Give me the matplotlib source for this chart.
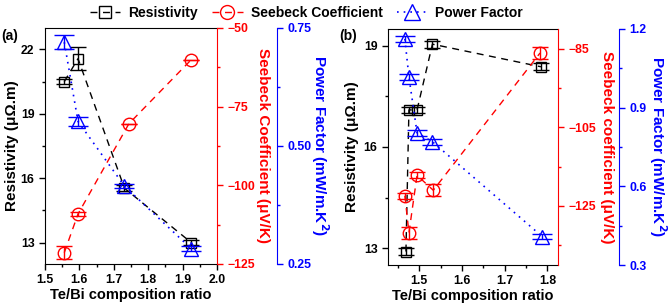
import numpy as np
import matplotlib
matplotlib.use('Agg')
import matplotlib.pyplot as plt
from matplotlib.lines import Line2D
from matplotlib.ticker import MultipleLocator, FixedLocator

plt.rcParams['font.family'] = ['Liberation Sans', 'DejaVu Sans']
plt.rcParams['font.weight'] = 'bold'
plt.rcParams['axes.labelweight'] = 'bold'

# panel (a)
a_x_res = [1.556, 1.596, 1.731, 1.925]
a_res = [20.5, 21.57, 15.53, 13.0]
a_res_err = [0.1, 0.55, 0.15, 0.1]
a_x_see = [1.556, 1.596, 1.744, 1.924]
a_see = [-121.4, -109.1, -80.4, -60.2]
a_see_err = [2.0, 0.7, 0.0, 0.0]
a_x_pf = [1.556, 1.596, 1.731, 1.925]
a_pf = [0.720, 0.552, 0.415, 0.2825]
a_pf_err = [0.015, 0.01, 0.005, 0.005]

# panel (b)
b_x_res = [1.469, 1.476, 1.495, 1.531, 1.785]
b_res = [12.90, 17.10, 17.10, 19.05, 18.38]
b_res_err = [0.1, 0.1, 0.1, 0.1, 0.1]
b_x_see = [1.4665, 1.476, 1.495, 1.533, 1.783]
b_see = [-122.4, -131.8, -117.2, -121.0, -86.1]
b_see_err = [0.8, 1.5, 0.8, 1.5, 1.5]
b_x_pf = [1.4665, 1.476, 1.495, 1.531, 1.788]
b_pf = [1.162, 1.017, 0.804, 0.770, 0.4085]
b_pf_err = [0.012, 0.012, 0.012, 0.012, 0.008]

RED = '#ff0000'
BLUE = '#0000ff'
FS = 10
XFS = 10.5
YFS = 11
TS = 8.8


def style_ticks(ax, color='black'):
    ax.tick_params(which='both', direction='out', width=1, colors=color, labelsize=TS)
    ax.tick_params(which='major', length=4)
    ax.tick_params(which='minor', length=2.5)


def panel(rect, tag, xr, r, re, xs, s, se, xp, p, pe, xlim, xmaj,
          rlim, rticks, slim, sticks, sminor, plim, pticks, pminor,
          see_label, lab_x):
    ax = fig.add_axes(rect)
    ax2 = ax.twinx()
    ax3 = ax.twinx()

    ax.errorbar(xr, r, yerr=re, color='black', ls=(0, (5, 4)), lw=1,
                marker='s', ms=7.5, mfc='none', mec='black', mew=1,
                capsize=6, elinewidth=1, capthick=1)
    ax2.errorbar(xs, s, yerr=se, color=RED, ls=(0, (5, 4)), lw=1,
                 marker='o', ms=9, mfc='none', mec=RED, mew=1,
                 capsize=6, elinewidth=1, capthick=1)
    ax3.errorbar(xp, p, yerr=pe, color=BLUE, ls=(0, (1, 3)), lw=1.2,
                 marker='^', ms=10, mfc='none', mec=BLUE, mew=1,
                 capsize=7, elinewidth=1, capthick=1)

    ax.set_xlim(*xlim)
    ax.xaxis.set_major_locator(FixedLocator(xmaj))
    ax.xaxis.set_minor_locator(MultipleLocator(0.05))
    ax.set_ylim(*rlim)
    ax.yaxis.set_major_locator(FixedLocator(rticks))
    ax.yaxis.set_minor_locator(FixedLocator([t + 1.5 for t in rticks]))
    ax.spines['right'].set_visible(False)
    style_ticks(ax)
    ax.set_xlabel('Te/Bi composition ratio', fontsize=XFS, fontweight='bold')
    ax.set_ylabel('Resistivity (\u03bc\u03a9.m)', fontsize=YFS, fontweight='bold')
    ax.xaxis.set_label_coords(0.5, -0.102)
    ax.yaxis.set_label_coords(lab_x[0], 0.5)

    ax2.set_ylim(*slim)
    ax2.yaxis.set_major_locator(FixedLocator(sticks))
    ax2.yaxis.set_minor_locator(FixedLocator(sminor))
    for sp in ['left', 'top', 'bottom']:
        ax2.spines[sp].set_visible(False)
    ax2.spines['right'].set_color(RED)
    style_ticks(ax2, RED)
    ax2.set_ylabel(see_label, color=RED, fontsize=YFS, fontweight='bold',
                   rotation=270, va='center', ha='center')
    ax2.yaxis.set_label_coords(lab_x[1], 0.5)

    ax3.set_ylim(*plim)
    ax3.yaxis.set_major_locator(FixedLocator(pticks))
    ax3.yaxis.set_minor_locator(FixedLocator(pminor))
    for sp in ['left', 'top', 'bottom']:
        ax3.spines[sp].set_visible(False)
    ax3.spines['right'].set_position(('axes', lab_x[2]))
    ax3.spines['right'].set_color(BLUE)
    style_ticks(ax3, BLUE)
    ax3.set_ylabel('Power Factor (mW/m.K$^\\mathbf{2}$)', color=BLUE, fontsize=YFS,
                   fontweight='bold', rotation=270, va='center', ha='center')
    ax3.yaxis.set_label_coords(lab_x[3], 0.5)

    fig.text(rect[0] - lab_x[4], 1 - 36 / 308, tag, fontsize=FS,
             fontweight='bold', ha='right', va='center')
    return ax


fig = plt.figure(figsize=(6.69, 3.08), dpi=100)

panel([45 / 669, 44 / 308, 172 / 669, 236 / 308], '(a)',
      a_x_res, a_res, a_res_err, a_x_see, a_see, a_see_err, a_x_pf, a_pf, a_pf_err,
      (1.5, 2.0), [1.5, 1.6, 1.7, 1.8, 1.9, 2.0],
      (12, 23), [13, 16, 19, 22],
      (-125, -50), [-125, -100, -75, -50], [-112.5, -87.5, -62.5],
      (0.25, 0.75), [0.25, 0.5, 0.75], [0.375, 0.625],
      'Seebeck Coefficient (\u03bcV/K)', (-0.15, 1.27, 1.35, 1.6, 27 / 669))

panel([388 / 669, 43 / 308, 170 / 669, 236 / 308], '(b)',
      b_x_res, b_res, b_res_err, b_x_see, b_see, b_see_err, b_x_pf, b_pf, b_pf_err,
      (1.427, 1.825), [1.5, 1.6, 1.7, 1.8],
      (12.5, 19.5), [13, 16, 19],
      (-140, -80), [-125, -105, -85], [-135, -115, -95],
      (0.3, 1.2), [0.3, 0.6, 0.9, 1.2], [0.45, 0.75, 1.05],
      'Seebeck coefficient (\u03bcV/K)', (-0.17, 1.29, 1.36, 1.59, 31 / 669))

handles = [
    Line2D([], [], color='black', ls=(0, (5, 4)), lw=1, marker='s', ms=9,
           mfc='none', mec='black'),
    Line2D([], [], color=RED, ls=(0, (5, 4)), lw=1, marker='o', ms=10,
           mfc='none', mec=RED),
    Line2D([], [], color=BLUE, ls=(0, (1, 3)), lw=1.2, marker='^', ms=11,
           mfc='none', mec=BLUE),
]
fig.legend(handles, ['Resistivity', 'Seebeck Coefficient', 'Power Factor'],
           loc='center', bbox_to_anchor=(0.458, 0.958), ncol=3, frameon=False,
           handlelength=2.2, handletextpad=0.6, columnspacing=1.0,
           prop={'weight': 'bold', 'size': FS})

fig.savefig('out.png', dpi=100)
